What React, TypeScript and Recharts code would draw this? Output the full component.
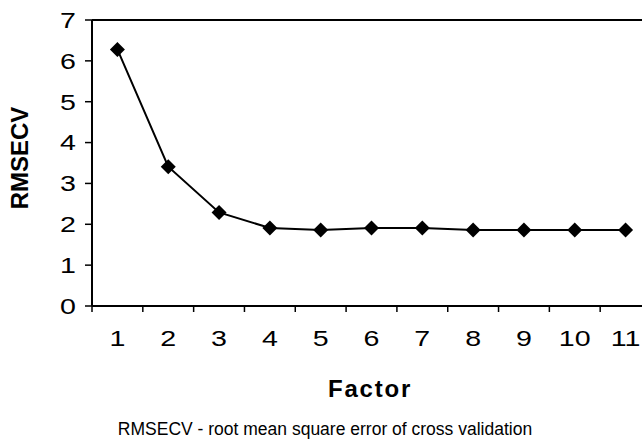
import React from 'react';
import { LineChart, Line, XAxis, YAxis, ReferenceLine, Label } from 'recharts';

const FACTORS = [1, 2, 3, 4, 5, 6, 7, 8, 9, 10, 11];
const RMSECV = [6.28, 3.41, 2.29, 1.91, 1.86, 1.91, 1.91, 1.86, 1.86, 1.86, 1.86];
const Y_TICKS = [0, 1, 2, 3, 4, 5, 6, 7];
// tick marks sit between the categories, like in the Excel original
const CATEGORY_EDGES = [0.5, 1.5, 2.5, 3.5, 4.5, 5.5, 6.5, 7.5, 8.5, 9.5, 10.5, 11.5];

const data = FACTORS.map((f, i) => ({ factor: f, rmsecv: RMSECV[i] }));

const FONT = '"Liberation Sans", Arial, sans-serif';
// the source picture's digits are drawn a bit wide
const DIGIT_STRETCH = 1.3;

const Diamond = (props: any) => {
  const { cx, cy } = props;
  if (cx == null || cy == null) return null;
  const r = 7.5;
  return (
    <polygon
      points={`${cx},${cy - r} ${cx + r},${cy} ${cx},${cy + r} ${cx - r},${cy}`}
      fill="#000"
    />
  );
};

// label each category in the middle of its slot, to the right of the edge tick
const CategoryTick = (props: any) => {
  const { x, y, payload, width } = props;
  const value = payload.value + 0.5;
  if (!FACTORS.includes(value)) return null;
  const half = width / FACTORS.length / 2;
  return (
    <text
      transform={`translate(${x + half},${y}) scale(${DIGIT_STRETCH},1)`}
      dy="0.71em"
      textAnchor="middle"
      fontSize={22}
      fontFamily={FONT}
      fill="#000"
    >
      {value}
    </text>
  );
};

const ValueTick = (props: any) => {
  const { x, y, payload } = props;
  return (
    <text
      transform={`translate(${x},${y}) scale(${DIGIT_STRETCH},1)`}
      dy="0.36em"
      textAnchor="end"
      fontSize={22}
      fontFamily={FONT}
      fill="#000"
    >
      {payload.value}
    </text>
  );
};

export default function App() {
  return (
    <div
      style={{
        position: 'fixed',
        left: 0,
        top: 0,
        width: 642,
        height: 441,
        overflow: 'hidden',
        background: '#fff',
      }}
    >
      <LineChart width={660} height={441} data={data} margin={{ top: 20, right: 9, left: 0, bottom: 0 }}>
        <XAxis
          type="number"
          dataKey="factor"
          domain={[0.5, 11.5]}
          ticks={CATEGORY_EDGES}
          interval={0}
          height={135}
          tickSize={6}
          tickMargin={18}
          axisLine={{ stroke: '#000', strokeWidth: 2 }}
          tickLine={{ stroke: '#000', strokeWidth: 1.5 }}
          tick={<CategoryTick />}
        >
          <Label
            content={() => (
              <g fontFamily={FONT} fill="#000">
                <text x={370} y={397} textAnchor="middle" fontSize={24} fontWeight="bold" letterSpacing={1.8}>
                  Factor
                </text>
                <text x={325} y={435} textAnchor="middle" fontSize={17.5}>
                  RMSECV - root mean square error of cross validation
                </text>
              </g>
            )}
          />
        </XAxis>
        <YAxis
          width={92}
          domain={[0, 7]}
          ticks={Y_TICKS}
          interval={0}
          tickSize={7}
          tickMargin={9}
          axisLine={{ stroke: '#000', strokeWidth: 2 }}
          tickLine={{ stroke: '#000', strokeWidth: 1.5 }}
          tick={<ValueTick />}
        >
          <Label
            content={() => (
              <text
                x={19}
                y={158}
                transform="rotate(-90 19 158)"
                textAnchor="middle"
                dominantBaseline="central"
                fontSize={24}
                fontWeight="bold"
                fontFamily={FONT}
                fill="#000"
              >
                RMSECV
              </text>
            )}
          />
        </YAxis>
        <ReferenceLine y={7} stroke="#000" strokeWidth={2} />
        <Line
          dataKey="rmsecv"
          type="linear"
          stroke="#000"
          strokeWidth={2}
          dot={<Diamond />}
          activeDot={false}
          isAnimationActive={false}
        />
      </LineChart>
    </div>
  );
}
